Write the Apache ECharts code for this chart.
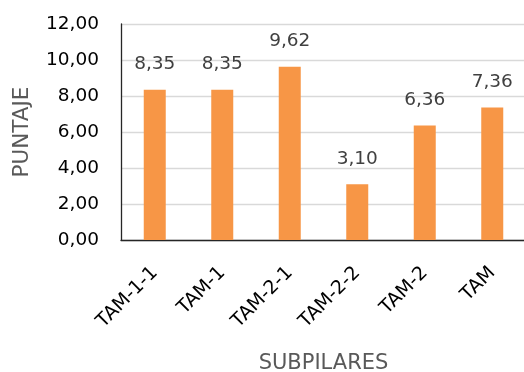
<!DOCTYPE html>
<html>
<head>
<meta charset="utf-8">
<style>
  html, body { margin: 0; padding: 0; background: #ffffff; }
  #chart { width: 524px; height: 372px; }
</style>
<script src="https://cdn.jsdelivr.net/npm/echarts@6/dist/echarts.min.js"></script>
</head>
<body>
<div id="chart"></div>
<script>
// Subpillar scores
const categories = ['TAM-1-1', 'TAM-1', 'TAM-2-1', 'TAM-2-2', 'TAM-2', 'TAM'];
const scores = [8.35, 8.35, 9.62, 3.10, 6.36, 7.36];
const yTicks = { min: 0, max: 12, interval: 2 };

const FONT = '"DejaVu Sans", sans-serif';
const fmt = v => Number(v).toFixed(2).replace('.', ',');

const chart = echarts.init(document.getElementById('chart'), null, { renderer: 'canvas' });
chart.setOption({
  animation: false,
  backgroundColor: '#ffffff',
  grid: { left: 121, right: -2, top: 24, bottom: 132, containLabel: false, outerBoundsMode: 'none' },
  xAxis: {
    type: 'category',
    data: categories,
    name: 'SUBPILARES',
    nameLocation: 'middle',
    nameGap: 113,
    nameTextStyle: { color: '#595959', fontSize: 21, fontFamily: FONT },
    axisLine: { show: true, lineStyle: { color: '#262626', width: 1.3 } },
    axisTick: { show: false },
    axisLabel: { rotate: 45, margin: 30, color: '#000000', fontSize: 19, fontFamily: FONT, interval: 0 },
    splitLine: { show: false }
  },
  yAxis: {
    type: 'value',
    min: yTicks.min,
    max: yTicks.max,
    interval: yTicks.interval,
    name: 'PUNTAJE',
    nameLocation: 'middle',
    nameGap: 88,
    nameTextStyle: { color: '#595959', fontSize: 21.5, fontFamily: FONT },
    axisLine: { show: true, lineStyle: { color: '#262626', width: 1.3 } },
    axisTick: { show: false },
    axisLabel: { margin: 22, color: '#000000', fontSize: 18.5, fontFamily: FONT, formatter: fmt },
    splitLine: { show: true, lineStyle: { color: '#d9d9d9', width: 1.3 } }
  },
  series: [{
    type: 'bar',
    data: scores,
    barWidth: 22,
    itemStyle: { color: '#F79646' },
    label: {
      show: true,
      position: 'top',
      distance: 16,
      color: '#404040',
      fontSize: 18.5,
      fontFamily: FONT,
      formatter: p => fmt(p.value)
    }
  }]
});
</script>
</body>
</html>
